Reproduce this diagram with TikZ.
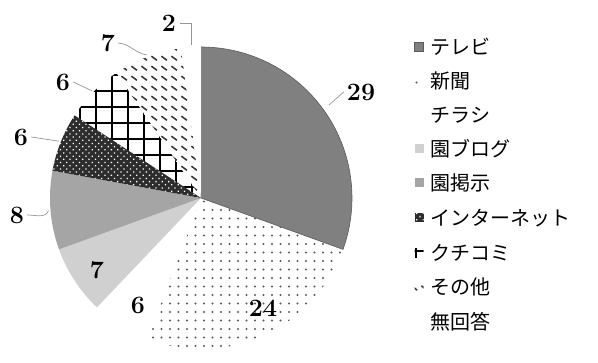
\documentclass[tikz,border=0pt]{standalone}
\usepackage{fontspec}
\newfontfamily\jpfont{Noto Sans CJK JP}
\usetikzlibrary{positioning,calc,patterns,patterns.meta}

\definecolor{tvgray}{RGB}{128,128,128}
\definecolor{boardgray}{RGB}{165,165,165}
\definecolor{bloggray}{RGB}{208,208,208}
\definecolor{netdark}{RGB}{45,45,45}
\definecolor{leadgray}{RGB}{150,150,150}

% short slanted dashes for "sonota"
\tikzdeclarepattern{
  name=otherdash,
  type=uncolored,
  bounding box={(0pt,0pt) and (10pt,10pt)},
  tile size={(10pt,10pt)},
  code={\draw[line width=1.7pt] (1.5pt,7.5pt) -- (7.5pt,3pt);}
}

\tikzset{
  tvfill/.style={fill=tvgray, draw=tvgray!70!black, line width=0.6pt},
  paperfill/.style={pattern={Dots[distance=8.5pt, radius=1.1pt]}, pattern color=gray!70!black},
  flyerfill/.style={fill=white},
  blogfill/.style={fill=bloggray},
  boardfill/.style={fill=boardgray},
  netfill/.style={preaction={fill=netdark}, pattern={Dots[distance=4.5pt, radius=0.9pt, angle=45]}, pattern color=white},
  wordfill/.style={pattern={Hatch[distance=16pt, line width=1.1pt]}, pattern color=black},
  otherfill/.style={pattern=otherdash, pattern color=gray!45!black},
  noansfill/.style={fill=white},
  leader/.style={draw=leadgray, line width=0.7pt},
  num/.style={inner sep=0pt, font=\bfseries\fontsize{25}{25}\selectfont},
  legmark/.style={minimum size=9pt, inner sep=0pt},
  legtext/.style={inner sep=0pt, font=\jpfont\fontsize{20}{24}\selectfont}
}

\begin{document}
\begin{tikzpicture}[x=1pt, y=1pt]

    \useasboundingbox (0,0) rectangle (598,363);

    % centre and radius of the pie
    \coordinate (O) at (201,165);
    \def\R{151pt}

    % slices, clockwise from the top
    \path[tvfill] (O) -- ++(90:\R) arc[start angle=90, end angle=-19.895, radius=\R] -- cycle;
    \path[paperfill] (O) -- ++(-19.895:\R) arc[start angle=-19.895, end angle=-110.842, radius=\R] -- cycle;
    \path[flyerfill] (O) -- ++(-110.842:\R) arc[start angle=-110.842, end angle=-133.579, radius=\R] -- cycle;
    \path[blogfill] (O) -- ++(-133.579:\R) arc[start angle=-133.579, end angle=-160.105, radius=\R] -- cycle;
    \path[boardfill] (O) -- ++(-160.105:\R) arc[start angle=-160.105, end angle=-190.421, radius=\R] -- cycle;
    \path[netfill] (O) -- ++(-190.421:\R) arc[start angle=-190.421, end angle=-213.158, radius=\R] -- cycle;
    \path[wordfill] (O) -- ++(-213.158:\R) arc[start angle=-213.158, end angle=-235.895, radius=\R] -- cycle;
    \path[otherfill] (O) -- ++(-235.895:\R) arc[start angle=-235.895, end angle=-262.421, radius=\R] -- cycle;
    \path[noansfill] (O) -- ++(-262.421:\R) arc[start angle=-262.421, end angle=-270, radius=\R] -- cycle;

    % rim points for the leader lines
    \coordinate (c29) at ($(O)+(36:158pt)$);
    \coordinate (c8) at ($(O)+(184.7:153pt)$);
    \coordinate (c6n) at ($(O)+(158.2:153pt)$);
    \coordinate (c6k) at ($(O)+(135.5:153pt)$);
    \coordinate (c7s) at ($(O)+(110.8:153pt)$);
    \coordinate (c2) at ($(O)+(93.8:153pt)$);

    % value labels
    \node[num] (n29) at (361,271) {29};
    \node[num] (n24) at (263,55) {24};
    \node[num] (n6c) at (138,58) {6};
    \node[num] (n7b) at (97,93) {7};
    \node[num] (n8) at (17,148) {8};
    \node[num] (n6n) at (21,226) {6};
    \node[num] (n6k) at (63,281) {6};
    \node[num] (n7s) at (108,320) {7};
    \node[num] (n2) at (169,340) {2};

    % leader lines
    \draw[leader] (c29) -- ([xshift=-3pt]n29.west);
    \draw[leader] ([xshift=3pt]n8.east) to[out=0, in=-110] (c8);
    \draw[leader] ([xshift=3pt]n6n.east) -- (c6n);
    \draw[leader] ([xshift=3pt]n6k.east) -- (c6k);
    \draw[leader] ([xshift=3pt]n7s.east) to[out=-5, in=170] (c7s);
    \draw[leader] ([xshift=4pt]n2.east) -| (c2);

    % legend
    \node[legmark, tvfill, line width=0.3pt] (m1) at (419,316) {};
    \node[legtext, right=7pt of m1] (t1) {テレビ};
    \node[legmark, paperfill] (m2) at (419,282) {};
    \node[legtext, right=7pt of m2] (t2) {新聞};
    \node[legmark, flyerfill] (m3) at (419,248) {};
    \node[legtext, right=7pt of m3] (t3) {チラシ};
    \node[legmark, blogfill] (m4) at (419,214) {};
    \node[legtext, right=7pt of m4] (t4) {園ブログ};
    \node[legmark, boardfill] (m5) at (419,180) {};
    \node[legtext, right=7pt of m5] (t5) {園掲示};
    \node[legmark, netfill] (m6) at (419,145) {};
    \node[legtext, right=7pt of m6] (t6) {インターネット};
    \node[legmark, wordfill] (m7) at (419,110) {};
    \node[legtext, right=7pt of m7] (t7) {クチコミ};
    \node[legmark, otherfill] (m8) at (419,76) {};
    \node[legtext, right=7pt of m8] (t8) {その他};
    \node[legmark, noansfill] (m9) at (419,41) {};
    \node[legtext, right=7pt of m9] (t9) {無回答};

\end{tikzpicture}
\end{document}
